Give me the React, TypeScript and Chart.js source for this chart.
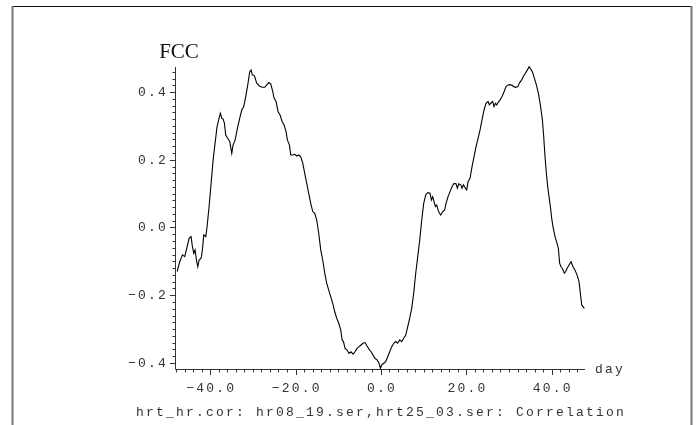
import React, { useEffect, useRef } from "react";
import { Chart, registerables } from "chart.js";

Chart.register(...registerables);

// Lag (days) and cross-correlation coefficient of hr08_19 vs hrt25_03
const lags: number[] = [
  -47.74, -47.12, -46.49, -45.95, -45.40, -44.93, -44.47, -44.15, -43.84, -43.53,
  -43.22, -42.90, -42.59, -42.12, -41.81, -41.50, -41.03, -40.72, -40.25, -39.78,
  -39.31, -38.85, -38.38, -37.91, -37.60, -37.28, -36.97, -36.66, -36.35, -35.88,
  -35.41, -34.94, -34.63, -34.16, -33.69, -33.07, -32.60, -32.13, -31.66, -31.19,
  -30.73, -30.41, -30.10, -29.63, -29.09, -28.46, -27.84, -27.21, -26.74, -26.28,
  -25.81, -25.34, -25.03, -24.56, -24.09, -23.62, -23.15, -22.69, -22.22, -21.90,
  -21.44, -21.12, -20.66, -20.19, -19.72, -19.25, -18.78, -18.31, -17.85, -17.38,
  -16.91, -16.44, -15.97, -15.50, -15.04, -14.57, -14.10, -13.63, -13.16, -12.69,
  -12.23, -11.76, -11.29, -10.82, -10.35, -9.88, -9.41, -9.10, -8.78, -8.40,
  -7.93, -7.46, -7.00, -6.53, -6.06, -5.59, -5.12, -4.65, -4.18, -3.72,
  -3.25, -2.78, -2.31, -1.84, -1.37, -0.91, -0.44, -0.12, 0.19, 0.66,
  1.12, 1.59, 2.06, 2.53, 3.00, 3.47, 3.93, 4.40, 4.87, 5.34,
  5.81, 6.28, 6.74, 7.21, 7.68, 8.15, 8.62, 9.09, 9.56, 10.02,
  10.49, 10.96, 11.51, 11.82, 12.13, 12.44, 12.76, 13.07, 13.38, 13.69,
  14.00, 14.47, 14.94, 15.25, 15.72, 16.19, 16.66, 17.13, 17.59, 17.91,
  18.22, 18.69, 19.00, 19.31, 19.78, 20.09, 20.41, 20.87, 21.34, 21.81,
  22.28, 22.75, 23.22, 23.68, 24.15, 24.62, 25.09, 25.40, 25.71, 26.18,
  26.49, 26.81, 27.12, 27.43, 27.90, 28.37, 28.84, 29.30, 29.77, 30.24,
  30.71, 31.10, 31.57, 32.04, 32.51, 32.97, 33.44, 33.91, 34.38, 34.69,
  35.00, 35.47, 35.94, 36.41, 36.88, 37.35, 37.82, 38.13, 38.44, 38.75,
  39.06, 39.37, 39.69, 40.00, 40.31, 40.78, 41.25, 41.56, 41.87, 42.19,
  42.50, 42.97, 43.28, 43.59, 44.06, 44.53, 45.00, 45.46, 45.93, 46.40,
  46.71, 47.03, 47.34, 47.65,
];

const fcc: number[] = [
  -0.130, -0.101, -0.081, -0.086, -0.057, -0.032, -0.027, -0.057, -0.076, -0.066,
  -0.096, -0.116, -0.096, -0.091, -0.066, -0.022, -0.027, 0.002, 0.062, 0.130,
  0.199, 0.249, 0.298, 0.323, 0.337, 0.323, 0.320, 0.308, 0.273, 0.263,
  0.254, 0.219, 0.244, 0.258, 0.288, 0.323, 0.347, 0.357, 0.387, 0.421,
  0.460, 0.465, 0.451, 0.448, 0.426, 0.418, 0.414, 0.414, 0.421, 0.428,
  0.424, 0.401, 0.382, 0.372, 0.342, 0.332, 0.313, 0.303, 0.283, 0.258,
  0.244, 0.214, 0.214, 0.216, 0.211, 0.214, 0.209, 0.190, 0.160, 0.130,
  0.101, 0.071, 0.047, 0.042, 0.022, -0.017, -0.066, -0.096, -0.135, -0.165,
  -0.185, -0.204, -0.224, -0.249, -0.268, -0.283, -0.303, -0.332, -0.337, -0.357,
  -0.362, -0.372, -0.367, -0.374, -0.367, -0.357, -0.352, -0.347, -0.342, -0.340,
  -0.350, -0.360, -0.367, -0.377, -0.387, -0.391, -0.401, -0.416, -0.406, -0.401,
  -0.396, -0.382, -0.367, -0.352, -0.342, -0.337, -0.342, -0.332, -0.337, -0.327,
  -0.318, -0.293, -0.268, -0.239, -0.194, -0.135, -0.086, -0.037, 0.022, 0.071,
  0.096, 0.103, 0.101, 0.081, 0.091, 0.076, 0.062, 0.066, 0.052, 0.042,
  0.037, 0.047, 0.052, 0.071, 0.091, 0.106, 0.121, 0.130, 0.129, 0.116,
  0.129, 0.126, 0.116, 0.126, 0.116, 0.111, 0.135, 0.145, 0.180, 0.209,
  0.239, 0.263, 0.288, 0.318, 0.347, 0.367, 0.372, 0.362, 0.367, 0.372,
  0.357, 0.367, 0.362, 0.369, 0.377, 0.387, 0.401, 0.416, 0.421, 0.422,
  0.420, 0.416, 0.414, 0.416, 0.428, 0.436, 0.448, 0.457, 0.467, 0.475,
  0.470, 0.460, 0.441, 0.421, 0.396, 0.362, 0.318, 0.268, 0.209, 0.160,
  0.121, 0.091, 0.062, 0.027, 0.002, -0.027, -0.047, -0.062, -0.106, -0.116,
  -0.121, -0.135, -0.130, -0.121, -0.111, -0.101, -0.116, -0.126, -0.140, -0.160,
  -0.194, -0.229, -0.234, -0.239,
];

// Axis ticks and texts
const xMajorTicks: number[] = [-40, -20, 0, 20, 40];
const yMajorTicks: number[] = [-0.4, -0.2, 0.0, 0.2, 0.4];
const xMinorStep = 2;
const yMinorStep = 0.02;
const yAxisTitle = "FCC";
const xAxisTitle = "day";
const caption = "hrt_hr.cor: hr08_19.ser,hrt25_03.ser: Correlation";

const MONO = "13px 'Liberation Mono', 'DejaVu Sans Mono', monospace";

// one decimal, typographic minus
const fmt = (v: number) => v.toFixed(1).replace("-", "\u2212");

const axesPlugin = {
  id: "plotAxes",
  afterDraw(chart: any) {
    const { ctx, chartArea, scales } = chart;
    const xs = scales.x;
    const ys = scales.y;
    const { left, right, top, bottom } = chartArea;

    ctx.save();

    // frame around the page
    ctx.lineWidth = 1;
    ctx.strokeStyle = "#111";
    ctx.beginPath();
    ctx.moveTo(12, 6.5);
    ctx.lineTo(692, 6.5);
    ctx.stroke();
    ctx.strokeStyle = "#777";
    ctx.lineWidth = 2;
    ctx.beginPath();
    ctx.moveTo(12.5, 6);
    ctx.lineTo(12.5, 425);
    ctx.moveTo(691.5, 6);
    ctx.lineTo(691.5, 425);
    ctx.stroke();

    // axis lines
    ctx.strokeStyle = "#333";
    ctx.lineWidth = 1;
    ctx.beginPath();
    ctx.moveTo(Math.round(left) - 0.5, top);
    ctx.lineTo(Math.round(left) - 0.5, Math.round(bottom) + 0.5);
    ctx.lineTo(right, Math.round(bottom) + 0.5);
    ctx.stroke();

    // x ticks
    ctx.beginPath();
    for (let v = xs.min; v <= xs.max + 1e-9; v += xMinorStep) {
      const px = Math.round(xs.getPixelForValue(v)) + 0.5;
      const major = xMajorTicks.some((t) => Math.abs(t - v) < 1e-6);
      ctx.moveTo(px, Math.round(bottom));
      ctx.lineTo(px, Math.round(bottom) + (major ? 6 : 3.5));
    }
    // y ticks
    const y0 = Math.ceil((ys.min - 1e-9) / yMinorStep);
    const y1 = Math.floor((ys.max + 1e-9) / yMinorStep);
    for (let k = y0; k <= y1; k++) {
      const v = k * yMinorStep;
      const py = Math.round(ys.getPixelForValue(v)) + 0.5;
      const major = yMajorTicks.some((t) => Math.abs(t - v) < 1e-6);
      ctx.moveTo(Math.round(left), py);
      ctx.lineTo(Math.round(left) - (major ? 6 : 3.5), py);
    }
    ctx.stroke();

    // tick labels
    ctx.fillStyle = "#333";
    ctx.font = MONO;
    (ctx as any).letterSpacing = "2.2px";
    ctx.textBaseline = "middle";

    ctx.textAlign = "right";
    for (const t of yMajorTicks) {
      ctx.fillText(fmt(t), left - 8, ys.getPixelForValue(t) + 0.5);
    }
    ctx.textAlign = "center";
    for (const t of xMajorTicks) {
      ctx.fillText(fmt(t), xs.getPixelForValue(t) + 1.1, bottom + 19.5);
    }
    ctx.textAlign = "left";
    ctx.fillText(xAxisTitle, right + 10, bottom + 0.5);

    ctx.textAlign = "center";
    ctx.fillText(caption, 381, bottom + 43.5);

    // y axis title
    (ctx as any).letterSpacing = "0px";
    ctx.fillStyle = "#111";
    ctx.font = "21px 'Liberation Serif', 'DejaVu Serif', serif";
    ctx.textBaseline = "alphabetic";
    ctx.textAlign = "center";
    ctx.fillText(yAxisTitle, 179, 58);

    ctx.restore();
  },
};

export default function App() {
  const canvasRef = useRef<HTMLCanvasElement | null>(null);

  useEffect(() => {
    const canvas = canvasRef.current;
    if (!canvas) return;
    const chart = new Chart(canvas, {
      type: "line",
      data: {
        datasets: [
          {
            data: lags.map((d, i) => ({ x: d, y: fcc[i] })),
            borderColor: "#000",
            borderWidth: 1.1,
            pointRadius: 0,
            tension: 0,
            fill: false,
            clip: false as any,
          },
        ],
      },
      options: {
        animation: false,
        responsive: false,
        devicePixelRatio: 1,
        layout: { padding: { left: 176, top: 67, right: 112, bottom: 56 } },
        plugins: {
          legend: { display: false },
          tooltip: { enabled: false },
        },
        scales: {
          x: { type: "linear", min: -48, max: 47.8, display: false },
          y: { type: "linear", min: -0.418, max: 0.474, display: false },
        },
      },
      plugins: [axesPlugin],
    });
    return () => chart.destroy();
  }, []);

  return (
    <div style={{ position: "fixed", left: 0, top: 0, width: 697, height: 425, background: "#fff" }}>
      <canvas ref={canvasRef} width={697} height={425} />
    </div>
  );
}
